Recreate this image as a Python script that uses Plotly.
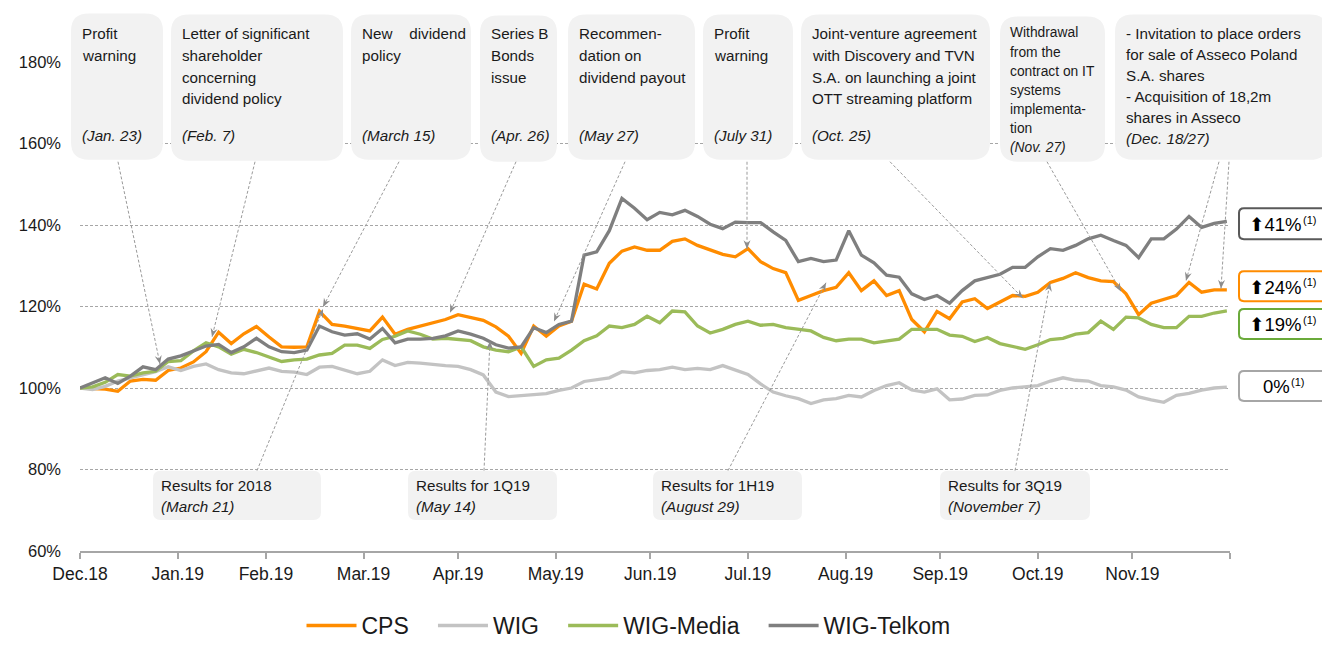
import plotly.graph_objects as go
import pandas as pd
import math

# ---------------- data ----------------
dates = pd.date_range("2018-12-31", periods=92, freq="4D")

cps = [100, 99.8, 99.7, 99.2, 101.7, 102.1, 101.9, 104.3, 104.9, 106.4, 108.9, 113.7, 110.9, 113.3,
       115.1, 112.5, 110.1, 110.0, 110.1, 118.8, 115.6, 115.2, 114.5, 114.0, 117.4, 113.2, 114.4,
       115.2, 115.8, 116.8, 118.0, 117.2, 116.6, 115.0, 112.7, 108.5, 115.2, 112.7, 115.2, 116.4,
       125.5, 124.3, 130.6, 133.6, 134.6, 133.8, 133.8, 136.0, 136.6, 135.0, 133.8, 132.8, 132.2,
       134.2, 131.0, 129.3, 128.3, 121.5, 122.7, 123.9, 124.7, 128.3, 123.9, 126.3, 122.7, 123.9,
       116.8, 113.8, 118.8, 117.0, 121.1, 121.9, 119.5, 121.1, 122.7, 122.5, 123.5, 125.9, 126.9,
       128.3, 127.1, 126.3, 126.1, 123.1, 118.0, 120.8, 121.7, 122.7, 125.9, 123.5, 124.1, 124.1]

wig = [100, 99.6, 100.4, 101.7, 102.5, 103.2, 104.0, 105.2, 104.3, 105.3, 105.9, 104.5, 103.7, 103.5,
       104.3, 104.9, 104.1, 103.9, 103.3, 105.1, 105.3, 104.3, 103.5, 104.1, 106.9, 105.5, 106.3,
       106.1, 105.7, 105.5, 105.3, 104.5, 103.2, 99.0, 97.9, 98.1, 98.4, 98.6, 99.4, 100.0,
       101.6, 102.1, 102.5, 104.0, 103.7, 104.3, 104.5, 105.1, 104.5, 104.8, 104.5, 105.5, 104.5,
       103.3, 101.0, 99.0, 98.1, 97.4, 96.2, 97.1, 97.4, 98.2, 97.8, 99.4, 100.6, 101.3,
       99.5, 99.0, 99.8, 97.1, 97.3, 98.2, 98.3, 99.4, 100.0, 100.2, 100.6, 101.7, 102.5,
       101.9, 101.7, 100.6, 100.3, 99.5, 97.8, 97.1, 96.5, 98.2, 98.7, 99.5, 100.0, 100.2]

wig_media = [100, 100.3, 101.4, 103.3, 102.9, 103.7, 104.1, 106.5, 106.7, 109.1, 111.1, 110.1, 108.3, 109.5,
             108.7, 107.7, 106.5, 106.9, 107.1, 108.1, 108.5, 110.5, 110.5, 109.7, 111.9, 112.7, 114.0,
             113.2, 112.0, 112.2, 112.0, 111.6, 110.1, 109.3, 108.9, 110.1, 105.3, 106.9, 107.3, 109.3,
             111.6, 112.8, 115.2, 114.8, 115.6, 117.6, 116.0, 118.9, 118.7, 115.2, 113.5, 114.4, 115.6,
             116.4, 115.4, 115.6, 114.8, 114.4, 114.0, 112.4, 111.6, 112.0, 112.0, 111.1, 111.6, 112.0,
             114.4, 114.4, 114.4, 113.0, 112.7, 111.4, 112.4, 110.9, 110.1, 109.5, 110.6, 111.9, 112.2,
             113.2, 113.6, 116.4, 114.4, 117.4, 117.2, 115.6, 114.8, 114.8, 117.6, 117.6, 118.4, 118.9]

wig_telkom = [100, 101.3, 102.5, 101.1, 102.9, 105.2, 104.5, 107.1, 107.9, 109.1, 110.3, 110.7, 108.7, 110.1,
              112.2, 110.1, 108.9, 108.7, 109.3, 115.2, 113.8, 113.0, 113.3, 112.0, 114.6, 111.1, 112.0,
              112.0, 112.2, 112.8, 114.0, 113.2, 112.2, 110.6, 109.8, 110.1, 114.8, 113.6, 115.6, 116.4,
              132.6, 133.4, 138.6, 146.5, 144.1, 141.3, 143.1, 142.5, 143.6, 142.1, 140.2, 139.1, 140.7,
              140.6, 140.6, 138.3, 136.2, 131.0, 131.8, 131.0, 131.4, 138.6, 132.6, 130.7, 127.7, 127.2,
              123.1, 121.7, 122.7, 120.8, 123.9, 126.3, 127.1, 127.9, 129.6, 129.6, 132.2, 134.2, 133.8,
              135.0, 136.6, 137.5, 136.2, 135.0, 132.0, 136.6, 136.6, 139.0, 142.1, 139.4, 140.4, 140.9]

series_names = ["CPS", "WIG", "WIG-Media", "WIG-Telkom"]
series_colors = ["#ff8c00", "#c3c3c3", "#9bbb59", "#7f7f7f"]

month_ticks = ["2018-12-31", "2019-01-31", "2019-02-28", "2019-03-31", "2019-04-30", "2019-05-31",
               "2019-06-30", "2019-07-31", "2019-08-31", "2019-09-30", "2019-10-31", "2019-11-30",
               "2019-12-31"]
month_labels = ["Dec.18", "Jan.19", "Feb.19", "Mar.19", "Apr.19", "May.19", "Jun.19", "Jul.19",
                "Aug.19", "Sep.19", "Oct.19", "Nov.19", ""]

y_ticks = [60, 80, 100, 120, 140, 160, 180]
y_labels = ["60%", "80%", "100%", "120%", "140%", "160%", "180%"]

end_labels = ["⬆41%", "⬆24%", "⬆19%", "0%"]
end_note = "(1)"
end_colors = ["#595959", "#ff8c00", "#6aaa3a", "#a6a6a6"]

top_events = [
    (["Profit", "warning"], "(Jan. 23)"),
    (["Letter of significant", "shareholder", "concerning", "dividend policy"], "(Feb. 7)"),
    (["New\u00a0\u00a0\u00a0 dividend", "policy"], "(March 15)"),
    (["Series B", "Bonds", "issue"], "(Apr. 26)"),
    (["Recommen-", "dation on", "dividend payout"], "(May 27)"),
    (["Profit", "warning"], "(July 31)"),
    (["Joint-venture agreement", "with Discovery and TVN", "S.A. on launching a joint",
      "OTT streaming platform"], "(Oct. 25)"),
]
withdrawal_lines = ["Withdrawal", "from the", "contract on IT", "systems", "implementa-", "tion"]
withdrawal_date = "(Nov. 27)"
asseco_lines = ["- Invitation to place orders", "for sale of Asseco Poland", "S.A. shares",
                "- Acquisition of 18,2m", "shares in Asseco"]
asseco_date = "(Dec. 18/27)"
bottom_events = [("Results for 2018", "(March 21)"), ("Results for 1Q19", "(May 14)"),
                 ("Results for 1H19", "(August 29)"), ("Results for 3Q19", "(November 7)")]

# ---------------- layout geometry (pixels) ----------------
W, H = 1330, 651
L, R, T, B = 72, 1222, 54, 559
FONT = "Liberation Sans, Arial, DejaVu Sans, sans-serif"
TXT = "#1a1a1a"


def px(X):
    return (X - L) / (R - L)


def py(Y):
    return (B - Y) / (B - T)


def rrect(x0, y0, x1, y1, r):
    pts = [("M", [(x0 + r, y0)]), ("L", [(x1 - r, y0)]), ("Q", [(x1, y0), (x1, y0 + r)]),
           ("L", [(x1, y1 - r)]), ("Q", [(x1, y1), (x1 - r, y1)]), ("L", [(x0 + r, y1)]),
           ("Q", [(x0, y1), (x0, y1 - r)]), ("L", [(x0, y0 + r)]), ("Q", [(x0, y0), (x0 + r, y0)])]
    s = ""
    for cmd, ps in pts:
        s += cmd + " " + " ".join(f"{px(a):.5f},{py(b):.5f}" for a, b in ps) + " "
    return s + "Z"


annotations = []
shapes = []


def text_line(x, yc, txt, size, italic=False, anchor="left", color=TXT):
    annotations.append(dict(x=px(x), y=py(yc), xref="paper", yref="paper",
                            text=("<i>" + txt + "</i>") if italic else txt, showarrow=False,
                            xanchor=anchor, yanchor="middle", align="left", borderpad=0,
                            font=dict(size=size, color=color, family=FONT)))


fig = go.Figure()
for name, vals, col in zip(series_names, [cps, wig, wig_media, wig_telkom], series_colors):
    fig.add_trace(go.Scatter(x=dates, y=vals, mode="lines", name=name + "\u00a0\u00a0\u00a0",
                             line=dict(color=col, width=3.3)))

top_boxes = [(63, 4, 155, 155), (163, 5, 335, 156), (343, 5, 463, 155), (472, 6, 549, 157),
             (560, 5, 687, 155), (695, 5, 785, 155), (793, 5, 982, 155), (992, 7, 1097, 157),
             (1107, 5, 1320, 155)]
for (x0, y0, x1, y1) in top_boxes:
    shapes.append(dict(type="path", path=rrect(x0, y0, x1, y1, 18), xref="paper", yref="paper",
                       fillcolor="#f2f2f2", line=dict(width=0), layer="above"))

bottom_boxes = [(145, 476, 313, 527), (400, 476, 549, 527), (645, 476, 794, 527), (932, 476, 1082, 527)]
for (x0, y0, x1, y1) in bottom_boxes:
    shapes.append(dict(type="path", path=rrect(x0, y0, x1, y1, 8), xref="paper", yref="paper",
                       fillcolor="#f2f2f2", line=dict(width=0), layer="above"))

right_boxes = [(205, 237), (270, 301), (309, 340), (373, 404)]
for (y0, y1), col, lab in zip(right_boxes, end_colors, end_labels):
    shapes.append(dict(type="path", path=rrect(1231, y0, 1321, y1, 5), xref="paper", yref="paper",
                       fillcolor="white", line=dict(color=col, width=2)))
    mw = 51 if lab.startswith("⬆") else 28
    sw = 14
    left = 1276 - (mw + sw) / 2
    yc = (y0 + y1) / 2
    text_line(left + mw, yc + 1, lab, 18.5, anchor="right", color="#000000")
    text_line(left + mw - 1, yc - 4, end_note, 11, anchor="left", color="#000000")

FS = 15.2
for (x0, y0, x1, y1), (lines, dt) in zip(top_boxes[:7], top_events):
    for k, ln in enumerate(lines):
        text_line(x0 + 10, 25 + 22.3 * k, ln, FS)
    text_line(x0 + 10, 130, dt, FS, italic=True)
for k, ln in enumerate(withdrawal_lines):
    text_line(1001, 24 + 19.8 * k, ln, 13.8)
text_line(1001, 24 + 19.8 * 6, withdrawal_date, 13.8, italic=True)
for k, ln in enumerate(asseco_lines):
    text_line(1117, 25 + 21.6 * k, ln, FS)
text_line(1117, 25 + 21.6 * 5, asseco_date, FS, italic=True)
for (x0, y0, x1, y1), (txt, dt) in zip(bottom_boxes, bottom_events):
    text_line(x0 + 7, 491, txt, FS)
    text_line(x0 + 7, 513, dt, FS, italic=True)

# connectors (tail in box -> tip on the line), pixel positions
connectors = [((110, 157), (152, 366)), ((247, 157), (204, 338)), ((391, 157), (315, 307)),
              ((249, 476), (315, 309)), ((508, 157), (442, 313)), ((476, 476), (482, 342)),
              ((617, 157), (546, 322)), ((739, 157), (739, 247)), ((720, 476), (818, 282)),
              ((882, 157), (1015, 298)), ((1007, 476), (1042, 282)), ((1039, 157), (1113, 291)),
              ((1211, 157), (1178, 280)), ((1221, 157), (1213, 288))]
for (tx, ty), (hx, hy) in connectors:
    shapes.append(dict(type="line", xref="paper", yref="paper", x0=px(tx), y0=py(ty), x1=px(hx),
                       y1=py(hy), line=dict(color="#9a9a9a", width=1, dash="3px,2px"), layer="above"))
    dx, dy = tx - hx, ty - hy
    n = math.hypot(dx, dy)
    ux, uy = dx / n, dy / n
    bx, by = hx + ux * 9, hy + uy * 9
    p1 = (bx - uy * 3.5, by + ux * 3.5)
    p2 = (bx + uy * 3.5, by - ux * 3.5)
    notch = (hx + ux * 6, hy + uy * 6)
    path = (f"M {px(hx):.5f},{py(hy):.5f} L {px(p1[0]):.5f},{py(p1[1]):.5f} "
            f"L {px(notch[0]):.5f},{py(notch[1]):.5f} L {px(p2[0]):.5f},{py(p2[1]):.5f} Z")
    shapes.append(dict(type="path", path=path, xref="paper", yref="paper", fillcolor="#8c8c8c",
                       line=dict(width=0), layer="above"))

fig.update_layout(
    width=W, height=H, margin=dict(l=L, r=W - R, t=T, b=H - B),
    paper_bgcolor="white", plot_bgcolor="white",
    font=dict(family=FONT, color=TXT),
    shapes=shapes, annotations=annotations,
    showlegend=True,
    legend=dict(orientation="h", x=px(630), xanchor="center", y=py(636), yanchor="middle",
                font=dict(size=23, color=TXT, family=FONT), itemwidth=50,
                bgcolor="rgba(0,0,0,0)"),
    xaxis=dict(type="date", range=["2018-12-31", "2019-12-31"], tickvals=month_ticks,
               ticktext=month_labels, showgrid=False, zeroline=False, showline=True,
               linecolor="#a6a6a6", linewidth=2, ticks="outside", ticklen=6, tickwidth=1.5,
               tickcolor="#a6a6a6", tickfont=dict(size=17.5, color=TXT, family=FONT)),
    yaxis=dict(range=[60, 180], tickvals=y_ticks, ticktext=y_labels, showgrid=True,
               gridcolor="#a6a6a6", gridwidth=1, griddash="3px,2px", zeroline=False,
               showline=False, ticks="", ticklabelstandoff=18,
               tickfont=dict(size=16.5, color=TXT, family=FONT)),
)

fig.write_html("out.html")
